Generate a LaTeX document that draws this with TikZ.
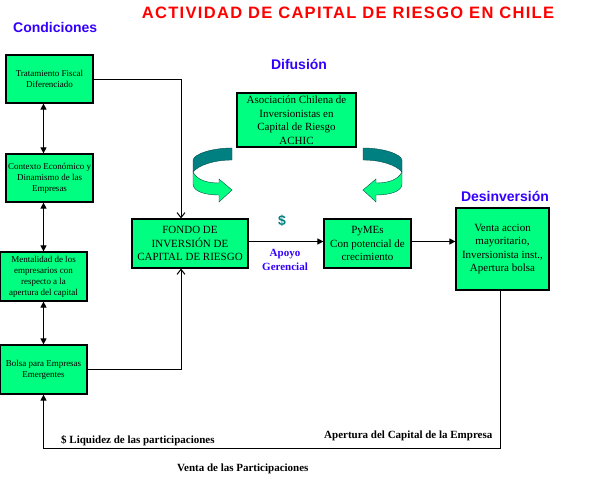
\documentclass[tikz,border=0pt]{standalone}
\usepackage{fontspec}
\setmainfont{Liberation Serif}
\setsansfont{Liberation Sans}
\newfontfamily\titlefont[LetterSpace=8.0]{Liberation Sans}
\usetikzlibrary{arrows.meta,positioning}
\definecolor{boxgreen}{RGB}{0,255,128}
\definecolor{headblue}{RGB}{51,0,255}
\definecolor{darkteal}{RGB}{0,128,128}

\begin{document}
\begin{tikzpicture}[
  x=1pt, y=-1pt,
  >={Triangle[length=6pt,width=6pt]},
  cbox/.style={draw, line width=1.2pt, fill=boxgreen, align=center,
               minimum width=87pt, minimum height=48pt, inner sep=1pt,
               font=\fontsize{9}{11}\selectfont},
  blk/.style={cbox, font=\fontsize{11}{13.5}\selectfont},
  hd/.style={font=\sffamily\bfseries\fontsize{14}{16}\selectfont, text=headblue, inner sep=0pt},
  lab/.style={font=\bfseries\fontsize{11}{13}\selectfont, inner sep=0pt},
  conn/.style={line width=1pt},
  vee/.style={-{Straight Barb[length=5pt,width=8pt]}}
]
\useasboundingbox (0,0) rectangle (589,479);

% ---------- titles ----------
\node[font=\titlefont\bfseries\fontsize{16.5}{18}\selectfont, text=red, inner sep=0pt, anchor=base]
      (title) at (348,18) {ACTIVIDAD DE CAPITAL DE RIESGO EN CHILE};
\node[hd, anchor=base west] (hcond) at (13,32) {Condiciones};
\node[hd, anchor=base] (hdif) at (299,69) {Difusión};
\node[hd, anchor=base] (hdes) at (505,201) {Desinversión};

% ---------- left: conditions ----------
\node[cbox] (trat)  at (49.5,79)    {Tratamiento Fiscal\\Diferenciado};
\node[cbox] (cont)  at (49.5,178)   {Contexto Económico y\\Dinamismo de las\\Empresas};
\node[cbox, minimum height=49pt] (ment)  at (43.5,276.5) {Mentalidad de los\\empresarios con\\respecto a la\\apertura del capital};
\node[cbox, minimum height=49pt] (bolsa) at (43.5,369.5) {Bolsa para Empresas\\Emergentes};

\draw[conn,<->] (trat.south -| ment.north) -- (cont.north -| ment.north);
\draw[conn,<->] (cont.south -| ment.north) -- (ment.north);
\draw[conn,<->] (ment.south) -- (bolsa.north);

% ---------- middle: fund, association, SMEs ----------
\node[blk, minimum width=116pt, minimum height=49pt] (fondo) at (190,243.5) {FONDO DE\\INVERSIÓN DE\\CAPITAL DE RIESGO};
\node[blk, minimum width=119pt, minimum height=54pt] (achic) at (296.5,120) {Asociación Chilena de\\Inversionistas en\\Capital de Riesgo\\ACHIC};
\node[blk, minimum height=49pt] (pymes) at (367.5,243.5) {PyMEs\\Con potencial de\\crecimiento};
\node[blk, minimum width=93pt, minimum height=82pt] (venta) at (502.5,249) {Venta accion\\mayoritario,\\Inversionista inst.,\\Apertura bolsa};

\draw[conn,vee] (trat.east) -| ([xshift=-9pt]fondo.north);
\draw[conn,vee] (bolsa.east) -| ([xshift=-9pt]fondo.south);
\draw[conn,->] ([yshift=2pt]fondo.east) -- ([yshift=2pt]pymes.west);
\draw[conn,->] ([yshift=2pt]pymes.east) -- ([yshift=2pt]pymes.east -| venta.west);
\draw[conn,->] ([xshift=-2.5pt]venta.south) -- ++(0,158) -| (bolsa.south);

\node[font=\sffamily\bfseries\fontsize{14}{16}\selectfont, text=darkteal, inner sep=0pt] (dollar) at (282,221) {\$};
\node[font=\bfseries\fontsize{11}{14}\selectfont, text=headblue, align=center, inner sep=0pt] (apoyo) at (285,260) {Apoyo\\Gerencial};

% curved arrows round the association
\fill[darkteal, draw=darkteal!60!black, line width=0.4pt]
  (232,148) .. controls (212,148) and (194,154) .. (193,160) -- (193,172)
  .. controls (199,165) and (214,160) .. (232,160) -- cycle;
\fill[boxgreen, draw=darkteal!60!black, line width=0.4pt]
  (193,172) .. controls (197,180) and (207,183) .. (219,183) -- (219,179) -- (232,190)
  -- (219,202) -- (219,195) .. controls (204,195) and (193,191) .. (193,184) -- cycle;
\begin{scope}[xshift=595pt, xscale=-1]
\fill[darkteal, draw=darkteal!60!black, line width=0.4pt]
  (232,148) .. controls (212,148) and (194,154) .. (193,160) -- (193,172)
  .. controls (199,165) and (214,160) .. (232,160) -- cycle;
\fill[boxgreen, draw=darkteal!60!black, line width=0.4pt]
  (193,172) .. controls (197,180) and (207,183) .. (219,183) -- (219,179) -- (232,190)
  -- (219,202) -- (219,195) .. controls (204,195) and (193,191) .. (193,184) -- cycle;
\end{scope}

% ---------- bottom labels ----------
\node[lab, anchor=base west] (liq)  at (61,443)  {\$ Liquidez de las participaciones};
\node[lab, anchor=base west] (aper) at (324,438) {Apertura del Capital de la Empresa};
\node[lab, anchor=base west] (vent) at (177,471) {Venta de las Participaciones};

\end{tikzpicture}
\end{document}
